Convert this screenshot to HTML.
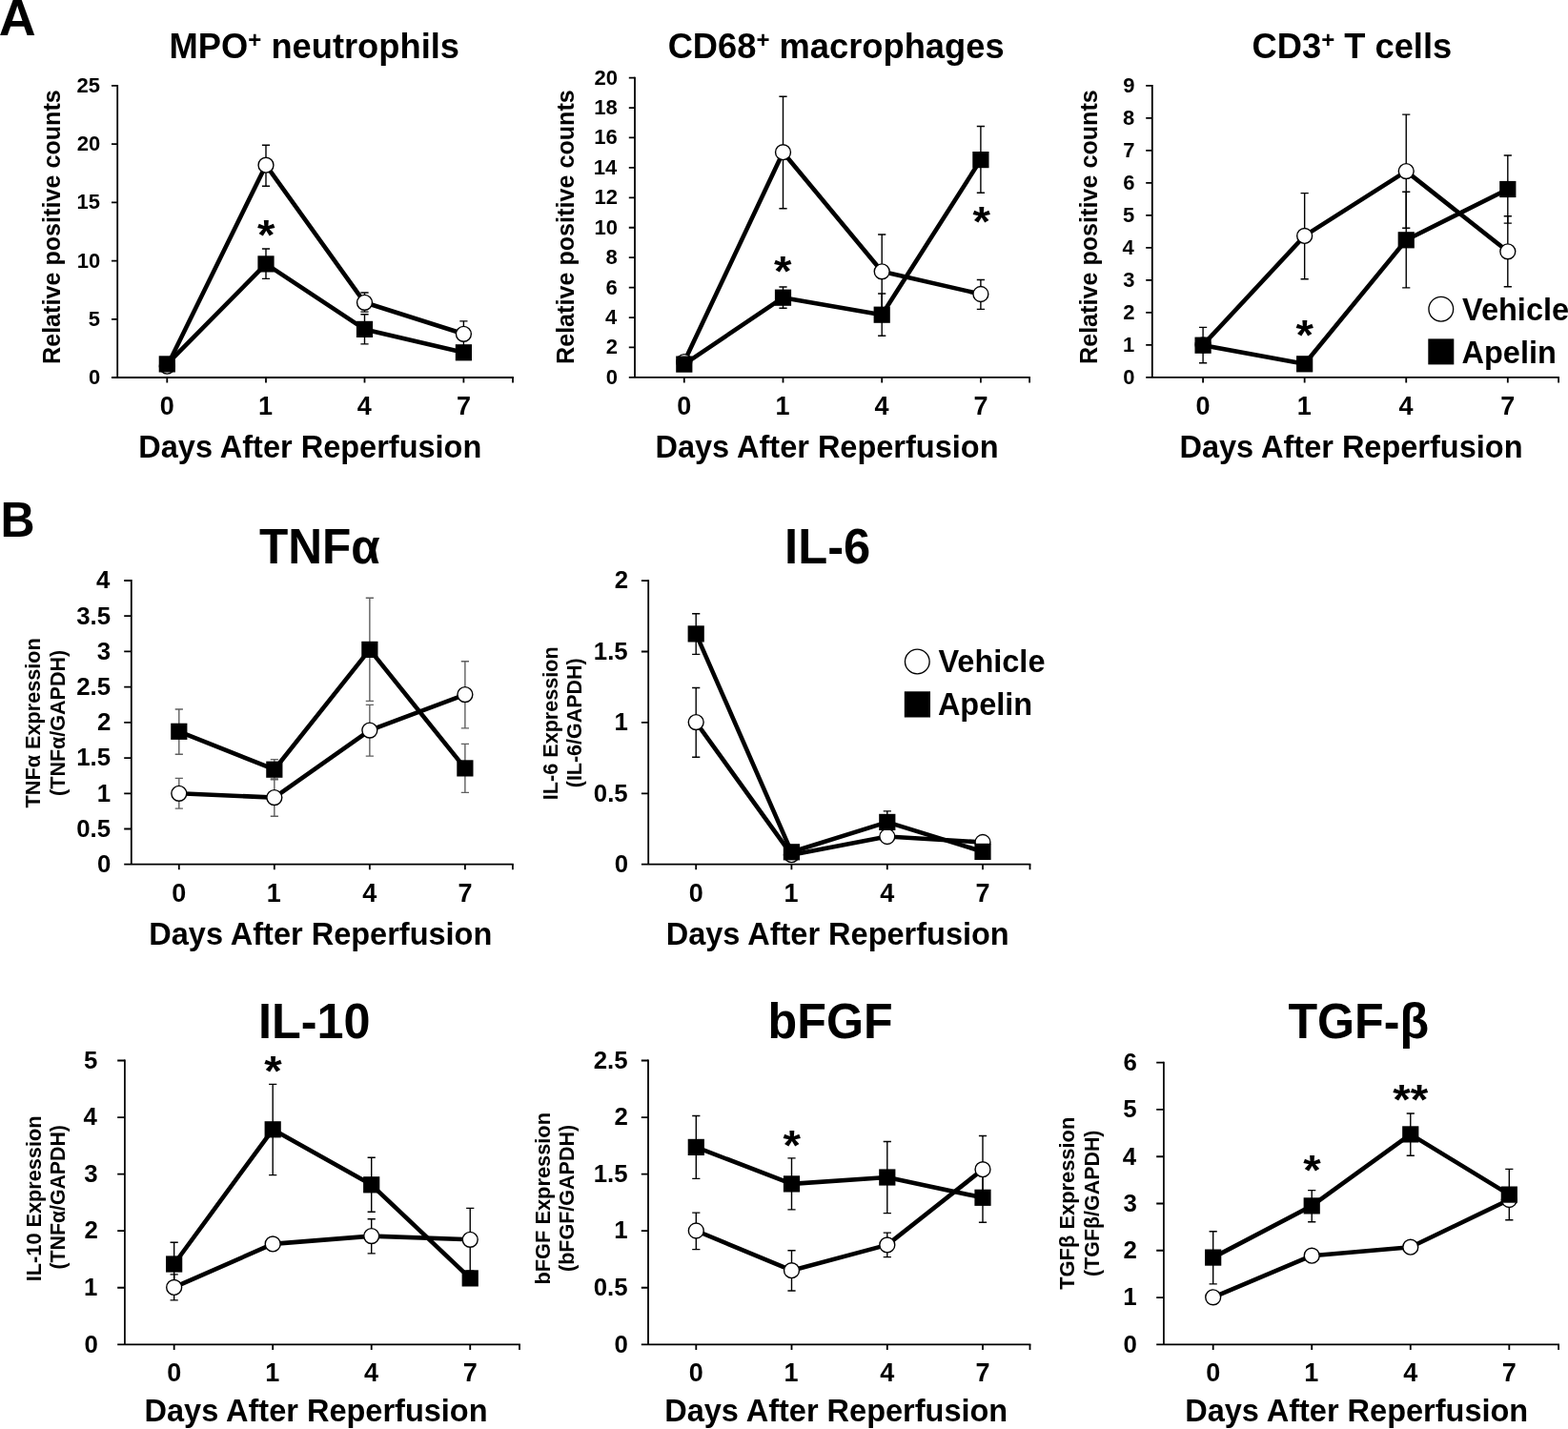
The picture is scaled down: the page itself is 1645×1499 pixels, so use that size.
<!DOCTYPE html>
<html><head><meta charset="utf-8"><title>Figure</title>
<style>
html,body{margin:0;padding:0;background:#fff;}
svg{display:block;}
text{font-family:"Liberation Sans", Arial, sans-serif;font-weight:bold;fill:#000;}
</style></head><body>
<svg width="1645" height="1499" viewBox="0 0 1645 1499">
<rect width="1645" height="1499" fill="#fff"/>
<text transform="translate(-1.15 36.65) scale(1.0669 1.05)" x="0" y="0" font-size="50.5">A</text>
<text transform="translate(0 -19.7) scale(1 1.0350)" x="0.52" y="562.9" font-size="50">B</text>
<path d="M123.2 396V89" stroke="#000" stroke-width="1.8" fill="none"/>
<path d="M117 396H538.9" stroke="#000" stroke-width="1.8" fill="none"/>
<path d="M117 334.78H123.2M117 273.56H123.2M117 212.34H123.2M117 151.12H123.2M117 89.9H123.2M175.3 396V401.6M279 396V401.6M382.5 396V401.6M486.4 396V401.6M538 396V401.6" stroke="#000" stroke-width="1.8" fill="none"/>
<text x="105.31" y="402.99" font-size="22" text-anchor="end">0</text>
<text x="105.03" y="341.77" font-size="22" text-anchor="end">5</text>
<text x="105.33" y="280.55" font-size="22" text-anchor="end">10</text>
<text x="105.06" y="219.33" font-size="22" text-anchor="end">15</text>
<text x="105.33" y="158.11" font-size="22" text-anchor="end">20</text>
<text x="105.06" y="96.89" font-size="22" text-anchor="end">25</text>
<text x="167.81" y="434.5" font-size="27">0</text>
<text x="271.04" y="434.5" font-size="27">1</text>
<text x="374.87" y="434.5" font-size="27">4</text>
<text x="478.91" y="434.5" font-size="27">7</text>
<text x="145.31" y="479.5" font-size="32.5">Days After Reperfusion</text>
<text transform="rotate(-90)" x="-382" y="62.7" font-size="25.15">Relative positive counts</text>
<text x="177.6" y="61" font-size="36.3">MPO<tspan font-size="24" dy="-11.1">+</tspan><tspan dy="11.1"> neutrophils</tspan></text>
<polyline points="175.3,384.2 279,173.2 382.5,317.3 486.4,350.3" stroke="#000" stroke-width="4.6" fill="none" stroke-linejoin="round"/>
<polyline points="175.3,381.9 279,276.9 382.5,345.4 486.4,369.8" stroke="#000" stroke-width="4.6" fill="none" stroke-linejoin="round"/>
<path d="M279 173.2V152.2 M274.9 152.2H283.1 M279 173.2V195.2 M274.9 195.2H283.1 M382.5 317.3V307 M378.4 307H386.6 M382.5 317.3V327.1 M378.4 327.1H386.6 M486.4 350.3V336.9 M482.3 336.9H490.5 M486.4 350.3V363.7 M482.3 363.7H490.5" stroke="#000" stroke-width="1.4" fill="none"/>
<path d="M279 276.9V261 M274.9 261H283.1 M279 276.9V292.4 M274.9 292.4H283.1 M382.5 345.4V329.8 M378.4 329.8H386.6 M382.5 345.4V360.9 M378.4 360.9H386.6" stroke="#000" stroke-width="1.4" fill="none"/>
<circle cx="175.3" cy="384.2" r="7.95" fill="#fff" stroke="#000" stroke-width="1.4"/>
<circle cx="279" cy="173.2" r="7.95" fill="#fff" stroke="#000" stroke-width="1.4"/>
<circle cx="382.5" cy="317.3" r="7.95" fill="#fff" stroke="#000" stroke-width="1.4"/>
<circle cx="486.4" cy="350.3" r="7.95" fill="#fff" stroke="#000" stroke-width="1.4"/>
<rect x="166.7" y="373.3" width="17.2" height="17.2" fill="#000"/>
<rect x="270.4" y="268.3" width="17.2" height="17.2" fill="#000"/>
<rect x="373.9" y="336.8" width="17.2" height="17.2" fill="#000"/>
<rect x="477.8" y="361.2" width="17.2" height="17.2" fill="#000"/>
<text transform="translate(0 13.41) scale(1 0.9440)" x="269.94" y="263.31" font-size="47.5">*</text>
<path d="M666 395.9V80.7" stroke="#000" stroke-width="1.8" fill="none"/>
<path d="M659.8 395.9H1081" stroke="#000" stroke-width="1.8" fill="none"/>
<path d="M659.8 364.47H666M659.8 333.04H666M659.8 301.61H666M659.8 270.18H666M659.8 238.75H666M659.8 207.32H666M659.8 175.89H666M659.8 144.46H666M659.8 113.03H666M659.8 81.6H666M717.8 395.9V401.5M821.5 395.9V401.5M925.2 395.9V401.5M1028.9 395.9V401.5M1080.1 395.9V401.5" stroke="#000" stroke-width="1.8" fill="none"/>
<text x="647.91" y="402.89" font-size="22" text-anchor="end">0</text>
<text x="647.91" y="371.46" font-size="22" text-anchor="end">2</text>
<text x="647.14" y="340.03" font-size="22" text-anchor="end">4</text>
<text x="647.8" y="308.6" font-size="22" text-anchor="end">6</text>
<text x="647.69" y="277.17" font-size="22" text-anchor="end">8</text>
<text x="647.93" y="245.74" font-size="22" text-anchor="end">10</text>
<text x="647.93" y="214.31" font-size="22" text-anchor="end">12</text>
<text x="647.16" y="182.88" font-size="22" text-anchor="end">14</text>
<text x="647.82" y="151.45" font-size="22" text-anchor="end">16</text>
<text x="647.71" y="120.02" font-size="22" text-anchor="end">18</text>
<text x="647.93" y="88.59" font-size="22" text-anchor="end">20</text>
<text x="710.31" y="434.5" font-size="27">0</text>
<text x="813.53" y="434.5" font-size="27">1</text>
<text x="917.57" y="434.5" font-size="27">4</text>
<text x="1021.41" y="434.5" font-size="27">7</text>
<text x="687.51" y="479.5" font-size="32.5">Days After Reperfusion</text>
<text transform="rotate(-90)" x="-382" y="602.3" font-size="25.15">Relative positive counts</text>
<text x="700.65" y="61" font-size="36.3">CD68<tspan font-size="24" dy="-11.1">+</tspan><tspan dy="11.1"> macrophages</tspan></text>
<polyline points="717.8,379.6 821.5,159.7 925.2,284.8 1028.9,308.5" stroke="#000" stroke-width="4.6" fill="none" stroke-linejoin="round"/>
<polyline points="717.8,382.1 821.5,312.2 925.2,330.2 1028.9,167.6" stroke="#000" stroke-width="4.6" fill="none" stroke-linejoin="round"/>
<path d="M821.5 159.7V101.2 M817.4 101.2H825.6 M821.5 159.7V218.8 M817.4 218.8H825.6 M925.2 284.8V246 M921.1 246H929.3 M925.2 284.8V323.6 M921.1 323.6H929.3 M1028.9 308.5V293.5 M1024.8 293.5H1033 M1028.9 308.5V324.4 M1024.8 324.4H1033" stroke="#000" stroke-width="1.4" fill="none"/>
<path d="M821.5 312.2V301 M817.4 301H825.6 M821.5 312.2V323.2 M817.4 323.2H825.6 M925.2 330.2V308 M921.1 308H929.3 M925.2 330.2V352.2 M921.1 352.2H929.3 M1028.9 167.6V132.5 M1024.8 132.5H1033 M1028.9 167.6V202.2 M1024.8 202.2H1033" stroke="#000" stroke-width="1.4" fill="none"/>
<circle cx="717.8" cy="379.6" r="7.95" fill="#fff" stroke="#000" stroke-width="1.4"/>
<circle cx="821.5" cy="159.7" r="7.95" fill="#fff" stroke="#000" stroke-width="1.4"/>
<circle cx="925.2" cy="284.8" r="7.95" fill="#fff" stroke="#000" stroke-width="1.4"/>
<circle cx="1028.9" cy="308.5" r="7.95" fill="#fff" stroke="#000" stroke-width="1.4"/>
<rect x="709.2" y="373.5" width="17.2" height="17.2" fill="#000"/>
<rect x="812.9" y="303.6" width="17.2" height="17.2" fill="#000"/>
<rect x="916.6" y="321.6" width="17.2" height="17.2" fill="#000"/>
<rect x="1020.3" y="159" width="17.2" height="17.2" fill="#000"/>
<text transform="translate(0 15.56) scale(1 0.9440)" x="812.04" y="301.71" font-size="47.5">*</text>
<text transform="translate(0 12.63) scale(1 0.9440)" x="1020.54" y="249.31" font-size="47.5">*</text>
<path d="M1208.8 395.8V88.9" stroke="#000" stroke-width="1.8" fill="none"/>
<path d="M1202.2 395.8H1636" stroke="#000" stroke-width="1.8" fill="none"/>
<path d="M1202.2 361.8H1208.8M1202.2 327.8H1208.8M1202.2 293.8H1208.8M1202.2 259.8H1208.8M1202.2 225.8H1208.8M1202.2 191.8H1208.8M1202.2 157.8H1208.8M1202.2 123.8H1208.8M1202.2 89.8H1208.8M1262.09 395.8V401.4M1368.66 395.8V401.4M1475.24 395.8V401.4M1581.81 395.8V401.4M1635.1 395.8V401.4" stroke="#000" stroke-width="1.8" fill="none"/>
<text x="1190.51" y="402.79" font-size="22" text-anchor="end">0</text>
<text x="1190.23" y="368.79" font-size="22" text-anchor="end">1</text>
<text x="1190.51" y="334.79" font-size="22" text-anchor="end">2</text>
<text x="1190.4" y="300.79" font-size="22" text-anchor="end">3</text>
<text x="1189.74" y="266.79" font-size="22" text-anchor="end">4</text>
<text x="1190.23" y="232.79" font-size="22" text-anchor="end">5</text>
<text x="1190.4" y="198.79" font-size="22" text-anchor="end">6</text>
<text x="1190.56" y="164.79" font-size="22" text-anchor="end">7</text>
<text x="1190.29" y="130.79" font-size="22" text-anchor="end">8</text>
<text x="1190.4" y="96.79" font-size="22" text-anchor="end">9</text>
<text x="1254.59" y="434.5" font-size="27">0</text>
<text x="1360.7" y="434.5" font-size="27">1</text>
<text x="1467.61" y="434.5" font-size="27">4</text>
<text x="1574.32" y="434.5" font-size="27">7</text>
<text x="1237.51" y="479.5" font-size="32.5">Days After Reperfusion</text>
<text transform="rotate(-90)" x="-382" y="1150.7" font-size="25.15">Relative positive counts</text>
<text x="1313.5" y="60.8" font-size="36.3">CD3<tspan font-size="24" dy="-11.1">+</tspan><tspan dy="11.1"> T cells</tspan></text>
<polyline points="1262.09,361.8 1368.66,247.4 1475.24,179.6 1581.81,263.8" stroke="#000" stroke-width="4.6" fill="none" stroke-linejoin="round"/>
<polyline points="1262.09,362.2 1368.66,381.8 1475.24,251.8 1581.81,198.5" stroke="#000" stroke-width="4.6" fill="none" stroke-linejoin="round"/>
<path d="M1262.09 361.8V343.4 M1257.99 343.4H1266.19 M1262.09 361.8V380.8 M1257.99 380.8H1266.19 M1368.66 247.4V202.6 M1364.56 202.6H1372.76 M1368.66 247.4V292.7 M1364.56 292.7H1372.76 M1475.24 179.6V120.1 M1471.14 120.1H1479.34 M1475.24 179.6V239.2 M1471.14 239.2H1479.34 M1581.81 263.8V226.8 M1577.71 226.8H1585.91 M1581.81 263.8V300.8 M1577.71 300.8H1585.91" stroke="#000" stroke-width="1.4" fill="none"/>
<path d="M1475.24 251.8V201.3 M1471.14 201.3H1479.34 M1475.24 251.8V301.9 M1471.14 301.9H1479.34 M1581.81 198.5V163 M1577.71 163H1585.91 M1581.81 198.5V234.1 M1577.71 234.1H1585.91" stroke="#000" stroke-width="1.4" fill="none"/>
<circle cx="1262.09" cy="361.8" r="7.95" fill="#fff" stroke="#000" stroke-width="1.4"/>
<circle cx="1368.66" cy="247.4" r="7.95" fill="#fff" stroke="#000" stroke-width="1.4"/>
<circle cx="1475.24" cy="179.6" r="7.95" fill="#fff" stroke="#000" stroke-width="1.4"/>
<circle cx="1581.81" cy="263.8" r="7.95" fill="#fff" stroke="#000" stroke-width="1.4"/>
<rect x="1253.49" y="353.6" width="17.2" height="17.2" fill="#000"/>
<rect x="1360.06" y="373.2" width="17.2" height="17.2" fill="#000"/>
<rect x="1466.64" y="243.2" width="17.2" height="17.2" fill="#000"/>
<rect x="1573.21" y="189.9" width="17.2" height="17.2" fill="#000"/>
<text transform="translate(0 19.32) scale(1 0.9440)" x="1359.44" y="368.81" font-size="47.5">*</text>
<circle cx="1511.8" cy="324.2" r="12.85" fill="#fff" stroke="#000" stroke-width="1.35"/>
<rect x="1498.3" y="355.4" width="27" height="27" fill="#000"/>
<text x="1534.06" y="336.1" font-size="32.5">Vehicle</text>
<text x="1533.49" y="380.8" font-size="32.5">Apelin</text>
<path d="M137.8 906.7V608.1" stroke="#000" stroke-width="1.8" fill="none"/>
<path d="M130.2 906.7H538.8" stroke="#000" stroke-width="1.8" fill="none"/>
<path d="M130.2 869.49H137.8M130.2 832.28H137.8M130.2 795.06H137.8M130.2 757.85H137.8M130.2 720.64H137.8M130.2 683.42H137.8M130.2 646.21H137.8M130.2 609H137.8M187.81 906.7V912.3M287.84 906.7V912.3M387.86 906.7V912.3M487.89 906.7V912.3M537.9 906.7V912.3" stroke="#000" stroke-width="1.8" fill="none"/>
<text x="116.36" y="915" font-size="25.8" text-anchor="end">0</text>
<text x="116.01" y="877.79" font-size="25.8" text-anchor="end">0.5</text>
<text x="116.04" y="840.58" font-size="25.8" text-anchor="end">1</text>
<text x="116.01" y="803.36" font-size="25.8" text-anchor="end">1.5</text>
<text x="116.36" y="766.15" font-size="25.8" text-anchor="end">2</text>
<text x="116.01" y="728.94" font-size="25.8" text-anchor="end">2.5</text>
<text x="116.23" y="691.73" font-size="25.8" text-anchor="end">3</text>
<text x="116.01" y="654.51" font-size="25.8" text-anchor="end">3.5</text>
<text x="115.46" y="617.3" font-size="25.8" text-anchor="end">4</text>
<text x="180.32" y="945.5" font-size="27">0</text>
<text x="279.87" y="945.5" font-size="27">1</text>
<text x="380.23" y="945.5" font-size="27">4</text>
<text x="480.39" y="945.5" font-size="27">7</text>
<text x="156.31" y="991.3" font-size="32.5">Days After Reperfusion</text>
<text transform="rotate(-90)" x="-847.39" y="41.8" font-size="21.66">TNFα Expression</text>
<text transform="rotate(-90)" x="-834.88" y="67.7" font-size="21.52">(TNFα/GAPDH)</text>
<text transform="translate(0 -20.68) scale(1 1.0350)" x="271.95" y="591" font-size="49.6">TNFα</text>
<polyline points="187.81,832.3 287.84,836.6 387.86,766.1 487.89,728.6" stroke="#000" stroke-width="4.6" fill="none" stroke-linejoin="round"/>
<polyline points="187.81,767.3 287.84,807.2 387.86,681.4 487.89,805.9" stroke="#000" stroke-width="4.6" fill="none" stroke-linejoin="round"/>
<path d="M187.81 832.3V816.4 M183.71 816.4H191.91 M187.81 832.3V848.1 M183.71 848.1H191.91 M287.84 836.6V816.9 M283.74 816.9H291.94 M287.84 836.6V856.3 M283.74 856.3H291.94 M387.86 766.1V739.4 M383.76 739.4H391.96 M387.86 766.1V793.1 M383.76 793.1H391.96 M487.89 728.6V693.7 M483.79 693.7H491.99 M487.89 728.6V763.9 M483.79 763.9H491.99" stroke="#606060" stroke-width="1.4" fill="none"/>
<path d="M187.81 767.3V744 M183.71 744H191.91 M187.81 767.3V791.3 M183.71 791.3H191.91 M287.84 807.2V796.6 M283.74 796.6H291.94 M287.84 807.2V817.8 M283.74 817.8H291.94 M387.86 681.4V627.2 M383.76 627.2H391.96 M387.86 681.4V735.4 M383.76 735.4H391.96 M487.89 805.9V780.4 M483.79 780.4H491.99 M487.89 805.9V831.4 M483.79 831.4H491.99" stroke="#606060" stroke-width="1.4" fill="none"/>
<circle cx="187.81" cy="832.3" r="7.95" fill="#fff" stroke="#000" stroke-width="1.4"/>
<circle cx="287.84" cy="836.6" r="7.95" fill="#fff" stroke="#000" stroke-width="1.4"/>
<circle cx="387.86" cy="766.1" r="7.95" fill="#fff" stroke="#000" stroke-width="1.4"/>
<circle cx="487.89" cy="728.6" r="7.95" fill="#fff" stroke="#000" stroke-width="1.4"/>
<rect x="179.21" y="758.7" width="17.2" height="17.2" fill="#000"/>
<rect x="279.24" y="798.6" width="17.2" height="17.2" fill="#000"/>
<rect x="379.26" y="672.8" width="17.2" height="17.2" fill="#000"/>
<rect x="479.29" y="797.3" width="17.2" height="17.2" fill="#000"/>
<path d="M680.2 906.7V608.2" stroke="#000" stroke-width="1.8" fill="none"/>
<path d="M672.9 906.7H1081.4" stroke="#000" stroke-width="1.8" fill="none"/>
<path d="M672.9 832.3H680.2M672.9 757.9H680.2M672.9 683.5H680.2M672.9 609.1H680.2M730.2 906.7V912.3M830.4 906.7V912.3M930.8 906.7V912.3M1031 906.7V912.3M1080.5 906.7V912.3" stroke="#000" stroke-width="1.8" fill="none"/>
<text x="659.06" y="915" font-size="25.8" text-anchor="end">0</text>
<text x="658.71" y="840.6" font-size="25.8" text-anchor="end">0.5</text>
<text x="658.74" y="766.2" font-size="25.8" text-anchor="end">1</text>
<text x="658.71" y="691.8" font-size="25.8" text-anchor="end">1.5</text>
<text x="659.06" y="617.4" font-size="25.8" text-anchor="end">2</text>
<text x="722.71" y="945.5" font-size="27">0</text>
<text x="822.43" y="945.5" font-size="27">1</text>
<text x="923.17" y="945.5" font-size="27">4</text>
<text x="1023.51" y="945.5" font-size="27">7</text>
<text x="698.71" y="991.3" font-size="32.5">Days After Reperfusion</text>
<text transform="rotate(-90)" x="-839.25" y="585.2" font-size="21.63">IL-6 Expression</text>
<text transform="rotate(-90)" x="-826.28" y="610.4" font-size="21.47">(IL-6/GAPDH)</text>
<text transform="translate(0 -20.68) scale(1 1.0350)" x="823.1" y="591" font-size="50.7">IL-6</text>
<polyline points="730.2,757.6 830.4,896.7 930.8,877.5 1031,883.5" stroke="#000" stroke-width="4.6" fill="none" stroke-linejoin="round"/>
<polyline points="730.2,664.9 830.4,893.8 930.8,862.4 1031,893.4" stroke="#000" stroke-width="4.6" fill="none" stroke-linejoin="round"/>
<path d="M730.2 757.6V721.5 M726.1 721.5H734.3 M730.2 757.6V794.3 M726.1 794.3H734.3" stroke="#000" stroke-width="1.4" fill="none"/>
<path d="M730.2 664.9V643.8 M726.1 643.8H734.3 M730.2 664.9V686.4 M726.1 686.4H734.3 M930.8 862.4V850.9 M926.7 850.9H934.9 M930.8 862.4V873.9 M926.7 873.9H934.9" stroke="#000" stroke-width="1.4" fill="none"/>
<circle cx="730.2" cy="757.6" r="7.95" fill="#fff" stroke="#000" stroke-width="1.4"/>
<circle cx="830.4" cy="896.7" r="7.95" fill="#fff" stroke="#000" stroke-width="1.4"/>
<circle cx="930.8" cy="877.5" r="7.95" fill="#fff" stroke="#000" stroke-width="1.4"/>
<circle cx="1031" cy="883.5" r="7.95" fill="#fff" stroke="#000" stroke-width="1.4"/>
<rect x="721.6" y="656.3" width="17.2" height="17.2" fill="#000"/>
<rect x="821.8" y="885.2" width="17.2" height="17.2" fill="#000"/>
<rect x="922.2" y="853.8" width="17.2" height="17.2" fill="#000"/>
<rect x="1022.4" y="884.8" width="17.2" height="17.2" fill="#000"/>
<circle cx="962.3" cy="694" r="12.85" fill="#fff" stroke="#000" stroke-width="1.35"/>
<rect x="948.8" y="725.3" width="27.2" height="27.2" fill="#000"/>
<text x="984.46" y="704.8" font-size="32.5">Vehicle</text>
<text x="983.89" y="749.8" font-size="32.5">Apelin</text>
<path d="M130.9 1410.3V1111.6" stroke="#000" stroke-width="1.8" fill="none"/>
<path d="M123.2 1410.3H545.9" stroke="#000" stroke-width="1.8" fill="none"/>
<path d="M123.2 1350.74H130.9M123.2 1291.18H130.9M123.2 1231.62H130.9M123.2 1172.06H130.9M123.2 1112.5H130.9M182.66 1410.3V1415.9M286.19 1410.3V1415.9M389.71 1410.3V1415.9M493.24 1410.3V1415.9M545 1410.3V1415.9" stroke="#000" stroke-width="1.8" fill="none"/>
<text x="102.76" y="1418.6" font-size="25.8" text-anchor="end">0</text>
<text x="102.44" y="1359.04" font-size="25.8" text-anchor="end">1</text>
<text x="102.76" y="1299.48" font-size="25.8" text-anchor="end">2</text>
<text x="102.63" y="1239.92" font-size="25.8" text-anchor="end">3</text>
<text x="101.86" y="1180.36" font-size="25.8" text-anchor="end">4</text>
<text x="102.44" y="1120.8" font-size="25.8" text-anchor="end">5</text>
<text x="175.17" y="1449" font-size="27">0</text>
<text x="278.22" y="1449" font-size="27">1</text>
<text x="382.08" y="1449" font-size="27">4</text>
<text x="485.75" y="1449" font-size="27">7</text>
<text x="151.56" y="1491.3" font-size="32.5">Days After Reperfusion</text>
<text transform="rotate(-90)" x="-1344.16" y="43.1" font-size="21.7">IL-10 Expression</text>
<text transform="rotate(-90)" x="-1331.6" y="68.3" font-size="21.3">(TNFα/GAPDH)</text>
<text transform="translate(0 -38.12) scale(1 1.0350)" x="271" y="1089.1" font-size="50.4">IL-10</text>
<polyline points="182.66,1350.4 286.19,1304.9 389.71,1296.6 493.24,1300.3" stroke="#000" stroke-width="4.6" fill="none" stroke-linejoin="round"/>
<polyline points="182.66,1326 286.19,1184.8 389.71,1242.8 493.24,1340.9" stroke="#000" stroke-width="4.6" fill="none" stroke-linejoin="round"/>
<path d="M182.66 1350.4V1336.9 M178.56 1336.9H186.76 M182.66 1350.4V1363.9 M178.56 1363.9H186.76 M389.71 1296.6V1278.8 M385.61 1278.8H393.81 M389.71 1296.6V1314.9 M385.61 1314.9H393.81 M493.24 1300.3V1267.4 M489.14 1267.4H497.34 M493.24 1300.3V1333.2 M489.14 1333.2H497.34" stroke="#000" stroke-width="1.4" fill="none"/>
<path d="M182.66 1326V1303.2 M178.56 1303.2H186.76 M182.66 1326V1348.8 M178.56 1348.8H186.76 M286.19 1184.8V1137.4 M282.09 1137.4H290.29 M286.19 1184.8V1232.6 M282.09 1232.6H290.29 M389.71 1242.8V1214.2 M385.61 1214.2H393.81 M389.71 1242.8V1271.2 M385.61 1271.2H393.81" stroke="#000" stroke-width="1.4" fill="none"/>
<circle cx="182.66" cy="1350.4" r="7.95" fill="#fff" stroke="#000" stroke-width="1.4"/>
<circle cx="286.19" cy="1304.9" r="7.95" fill="#fff" stroke="#000" stroke-width="1.4"/>
<circle cx="389.71" cy="1296.6" r="7.95" fill="#fff" stroke="#000" stroke-width="1.4"/>
<circle cx="493.24" cy="1300.3" r="7.95" fill="#fff" stroke="#000" stroke-width="1.4"/>
<rect x="174.06" y="1317.4" width="17.2" height="17.2" fill="#000"/>
<rect x="277.59" y="1176.2" width="17.2" height="17.2" fill="#000"/>
<rect x="381.11" y="1234.2" width="17.2" height="17.2" fill="#000"/>
<rect x="484.64" y="1332.3" width="17.2" height="17.2" fill="#000"/>
<text transform="translate(0 62.54) scale(1 0.9440)" x="277.14" y="1140.61" font-size="47.5">*</text>
<path d="M680 1410.3V1111.6" stroke="#000" stroke-width="1.8" fill="none"/>
<path d="M672.8 1410.3H1081.4" stroke="#000" stroke-width="1.8" fill="none"/>
<path d="M672.8 1350.74H680M672.8 1291.18H680M672.8 1231.62H680M672.8 1172.06H680M672.8 1112.5H680M730.3 1410.3V1415.9M830.5 1410.3V1415.9M930.8 1410.3V1415.9M1031 1410.3V1415.9M1080.5 1410.3V1415.9" stroke="#000" stroke-width="1.8" fill="none"/>
<text x="658.96" y="1418.6" font-size="25.8" text-anchor="end">0</text>
<text x="658.61" y="1359.04" font-size="25.8" text-anchor="end">0.5</text>
<text x="658.64" y="1299.48" font-size="25.8" text-anchor="end">1</text>
<text x="658.61" y="1239.92" font-size="25.8" text-anchor="end">1.5</text>
<text x="658.96" y="1180.36" font-size="25.8" text-anchor="end">2</text>
<text x="658.61" y="1120.8" font-size="25.8" text-anchor="end">2.5</text>
<text x="722.81" y="1449" font-size="27">0</text>
<text x="822.53" y="1449" font-size="27">1</text>
<text x="923.17" y="1449" font-size="27">4</text>
<text x="1023.51" y="1449" font-size="27">7</text>
<text x="697.21" y="1491.3" font-size="32.5">Days After Reperfusion</text>
<text transform="rotate(-90)" x="-1347.61" y="576.8" font-size="21.82">bFGF Expression</text>
<text transform="rotate(-90)" x="-1333.96" y="602" font-size="21.51">(bFGF/GAPDH)</text>
<text transform="translate(0 -38.13) scale(1 1.0350)" x="805.6" y="1089.4" font-size="50.2">bFGF</text>
<polyline points="730.3,1291 830.5,1332.7 930.8,1305.9 1031,1226.7" stroke="#000" stroke-width="4.6" fill="none" stroke-linejoin="round"/>
<polyline points="730.3,1203.4 830.5,1241.9 930.8,1235 1031,1256.3" stroke="#000" stroke-width="4.6" fill="none" stroke-linejoin="round"/>
<path d="M730.3 1291V1272.1 M726.2 1272.1H734.4 M730.3 1291V1310.6 M726.2 1310.6H734.4 M830.5 1332.7V1311.7 M826.4 1311.7H834.6 M830.5 1332.7V1354 M826.4 1354H834.6 M930.8 1305.9V1293.1 M926.7 1293.1H934.9 M930.8 1305.9V1318.6 M926.7 1318.6H934.9 M1031 1226.7V1191.5 M1026.9 1191.5H1035.1 M1031 1226.7V1261.9 M1026.9 1261.9H1035.1" stroke="#000" stroke-width="1.4" fill="none"/>
<path d="M730.3 1203.4V1170.5 M726.2 1170.5H734.4 M730.3 1203.4V1236.4 M726.2 1236.4H734.4 M830.5 1241.9V1214.9 M826.4 1214.9H834.6 M830.5 1241.9V1268.9 M826.4 1268.9H834.6 M930.8 1235V1197.5 M926.7 1197.5H934.9 M930.8 1235V1272.6 M926.7 1272.6H934.9 M1031 1256.3V1230.3 M1026.9 1230.3H1035.1 M1031 1256.3V1282.3 M1026.9 1282.3H1035.1" stroke="#000" stroke-width="1.4" fill="none"/>
<circle cx="730.3" cy="1291" r="7.95" fill="#fff" stroke="#000" stroke-width="1.4"/>
<circle cx="830.5" cy="1332.7" r="7.95" fill="#fff" stroke="#000" stroke-width="1.4"/>
<circle cx="930.8" cy="1305.9" r="7.95" fill="#fff" stroke="#000" stroke-width="1.4"/>
<circle cx="1031" cy="1226.7" r="7.95" fill="#fff" stroke="#000" stroke-width="1.4"/>
<rect x="721.7" y="1194.8" width="17.2" height="17.2" fill="#000"/>
<rect x="821.9" y="1233.3" width="17.2" height="17.2" fill="#000"/>
<rect x="922.2" y="1226.4" width="17.2" height="17.2" fill="#000"/>
<rect x="1022.4" y="1247.7" width="17.2" height="17.2" fill="#000"/>
<text transform="translate(0 66.88) scale(1 0.9440)" x="821.44" y="1218.01" font-size="47.5">*</text>
<path d="M1220.9 1410.3V1113.8" stroke="#000" stroke-width="1.8" fill="none"/>
<path d="M1213.2 1410.3H1636" stroke="#000" stroke-width="1.8" fill="none"/>
<path d="M1213.2 1361.03H1220.9M1213.2 1311.77H1220.9M1213.2 1262.5H1220.9M1213.2 1213.23H1220.9M1213.2 1163.97H1220.9M1213.2 1114.7H1220.9M1272.68 1410.3V1415.9M1376.22 1410.3V1415.9M1479.78 1410.3V1415.9M1583.32 1410.3V1415.9M1635.1 1410.3V1415.9" stroke="#000" stroke-width="1.8" fill="none"/>
<text x="1192.96" y="1418.6" font-size="25.8" text-anchor="end">0</text>
<text x="1192.64" y="1369.33" font-size="25.8" text-anchor="end">1</text>
<text x="1192.96" y="1320.07" font-size="25.8" text-anchor="end">2</text>
<text x="1192.83" y="1270.8" font-size="25.8" text-anchor="end">3</text>
<text x="1192.06" y="1221.53" font-size="25.8" text-anchor="end">4</text>
<text x="1192.64" y="1172.27" font-size="25.8" text-anchor="end">5</text>
<text x="1192.83" y="1123" font-size="25.8" text-anchor="end">6</text>
<text x="1265.18" y="1449" font-size="27">0</text>
<text x="1368.26" y="1449" font-size="27">1</text>
<text x="1472.15" y="1449" font-size="27">4</text>
<text x="1575.83" y="1449" font-size="27">7</text>
<text x="1243.21" y="1491.3" font-size="32.5">Days After Reperfusion</text>
<text transform="rotate(-90)" x="-1352.78" y="1127.4" font-size="21.89">TGFβ Expression</text>
<text transform="rotate(-90)" x="-1338.89" y="1153.3" font-size="21.42">(TGFβ/GAPDH)</text>
<text transform="translate(0 -38.12) scale(1 1.0350)" x="1351.4" y="1089.2" font-size="50.2">TGF-β</text>
<polyline points="1272.68,1360.8 1376.22,1317.2 1479.78,1308.2 1583.32,1258.5" stroke="#000" stroke-width="4.6" fill="none" stroke-linejoin="round"/>
<polyline points="1272.68,1319.1 1376.22,1264.9 1479.78,1189.9 1583.32,1253.1" stroke="#000" stroke-width="4.6" fill="none" stroke-linejoin="round"/>
<path d="M1272.68 1319.1V1291.7 M1268.58 1291.7H1276.78 M1272.68 1319.1V1346.9 M1268.58 1346.9H1276.78 M1376.22 1264.9V1248.6 M1372.12 1248.6H1380.32 M1376.22 1264.9V1281.7 M1372.12 1281.7H1380.32 M1479.78 1189.9V1168 M1475.68 1168H1483.88 M1479.78 1189.9V1212.3 M1475.68 1212.3H1483.88 M1583.32 1253.1V1226.4 M1579.22 1226.4H1587.42 M1583.32 1253.1V1279.8 M1579.22 1279.8H1587.42" stroke="#000" stroke-width="1.4" fill="none"/>
<circle cx="1272.68" cy="1360.8" r="7.95" fill="#fff" stroke="#000" stroke-width="1.4"/>
<circle cx="1376.22" cy="1317.2" r="7.95" fill="#fff" stroke="#000" stroke-width="1.4"/>
<circle cx="1479.78" cy="1308.2" r="7.95" fill="#fff" stroke="#000" stroke-width="1.4"/>
<circle cx="1583.32" cy="1258.5" r="7.95" fill="#fff" stroke="#000" stroke-width="1.4"/>
<rect x="1264.08" y="1310.5" width="17.2" height="17.2" fill="#000"/>
<rect x="1367.62" y="1256.3" width="17.2" height="17.2" fill="#000"/>
<rect x="1471.18" y="1181.3" width="17.2" height="17.2" fill="#000"/>
<rect x="1574.72" y="1244.5" width="17.2" height="17.2" fill="#000"/>
<text transform="translate(0 68.37) scale(1 0.9440)" x="1367.14" y="1244.71" font-size="47.5">*</text>
<text transform="translate(0 64.22) scale(1 0.9440)" x="1461.17" y="1170.51" font-size="47.5">**</text>
</svg>
</body></html>
